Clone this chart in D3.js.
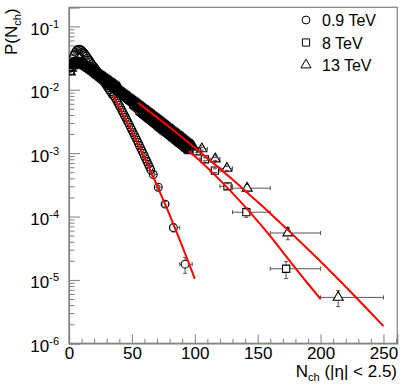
<!DOCTYPE html>
<html>
<head>
<meta charset="utf-8">
<title>P(Nch)</title>
<script src="https://d3js.org/d3.v7.min.js"></script>
<style>
  body { margin: 0; background: #fff; }
  text { font-family: "Liberation Sans", Arial, Helvetica, sans-serif; }
</style>
</head>
<body>
<script>
// dense part of the spectra, one value per N_ch = 1, 2, 3, ...
var p09 = [2.19e-2, 2.63e-2, 3.09e-2, 3.55e-2, 3.89e-2, 4.17e-2, 4.32e-2, 4.37e-2, 4.32e-2, 4.17e-2,
           3.98e-2, 3.80e-2, 3.59e-2, 3.39e-2, 3.16e-2, 2.95e-2, 2.75e-2, 2.57e-2, 2.40e-2, 2.29e-2,
           2.14e-2, 2.00e-2, 1.86e-2, 1.74e-2, 1.62e-2, 1.51e-2, 1.41e-2, 1.32e-2, 1.23e-2, 1.15e-2,
           1.07e-2, 1.00e-2, 9.33e-3, 8.71e-3, 8.13e-3, 7.93e-3, 7.29e-3, 6.70e-3, 6.15e-3, 5.65e-3,
           5.18e-3, 4.75e-3, 4.35e-3, 3.98e-3, 3.65e-3, 3.33e-3, 3.05e-3, 2.79e-3, 2.54e-3, 2.32e-3,
           2.11e-3, 1.93e-3, 1.76e-3, 1.60e-3, 1.46e-3, 1.32e-3, 1.20e-3, 1.09e-3, 9.91e-4, 8.97e-4,
           8.13e-4, 7.38e-4, 6.67e-4, 6.04e-4, 5.46e-4];
var p8 = [2.00e-2, 2.29e-2, 2.51e-2, 2.69e-2, 2.79e-2, 2.82e-2, 2.82e-2, 2.79e-2, 2.72e-2, 2.63e-2,
          2.54e-2, 2.45e-2, 2.37e-2, 2.29e-2, 2.21e-2, 2.14e-2, 2.07e-2, 2.00e-2, 1.93e-2, 1.86e-2,
          1.79e-2, 1.73e-2, 1.67e-2, 1.61e-2, 1.55e-2, 1.50e-2, 1.45e-2, 1.40e-2, 1.35e-2, 1.30e-2,
          1.26e-2, 1.22e-2, 1.17e-2, 1.14e-2, 1.10e-2, 1.06e-2, 1.02e-2, 9.89e-3, 9.55e-3, 9.23e-3,
          8.91e-3, 8.61e-3, 8.32e-3, 8.04e-3, 7.76e-3, 7.48e-3, 7.21e-3, 6.95e-3, 6.70e-3, 6.46e-3,
          5.91e-3, 5.70e-3, 5.49e-3, 5.29e-3, 5.10e-3, 4.66e-3, 4.49e-3, 4.33e-3, 4.17e-3, 4.02e-3,
          3.88e-3, 3.74e-3, 3.60e-3, 3.47e-3, 3.35e-3, 3.22e-3, 3.11e-3, 3.00e-3, 2.89e-3, 2.78e-3,
          2.68e-3, 2.58e-3, 2.49e-3, 2.40e-3, 2.31e-3, 2.23e-3, 2.16e-3, 2.09e-3, 2.02e-3, 1.94e-3,
          1.87e-3, 1.81e-3, 1.75e-3, 1.68e-3, 1.62e-3, 1.56e-3, 1.50e-3, 1.45e-3, 1.40e-3, 1.35e-3,
          1.30e-3, 1.25e-3, 1.21e-3, 1.16e-3, 1.12e-3];
var p13 = [1.91e-2, 2.19e-2, 2.40e-2, 2.54e-2, 2.63e-2, 2.66e-2, 2.66e-2, 2.63e-2, 2.60e-2, 2.54e-2,
           2.48e-2, 2.43e-2, 2.37e-2, 2.32e-2, 2.26e-2, 2.19e-2, 2.14e-2, 2.09e-2, 2.04e-2, 2.00e-2,
           1.94e-2, 1.88e-2, 1.82e-2, 1.77e-2, 1.72e-2, 1.66e-2, 1.61e-2, 1.56e-2, 1.51e-2, 1.46e-2,
           1.42e-2, 1.37e-2, 1.33e-2, 1.29e-2, 1.24e-2, 1.21e-2, 1.17e-2, 1.13e-2, 1.09e-2, 1.06e-2,
           9.50e-3, 9.14e-3, 8.85e-3, 8.57e-3, 8.30e-3, 8.01e-3, 7.74e-3, 7.48e-3, 7.22e-3, 6.98e-3,
           6.76e-3, 6.54e-3, 6.34e-3, 6.14e-3, 5.94e-3, 5.74e-3, 5.55e-3, 5.35e-3, 5.17e-3, 5.00e-3,
           4.83e-3, 4.66e-3, 4.51e-3, 4.35e-3, 4.20e-3, 4.07e-3, 3.93e-3, 3.79e-3, 3.66e-3, 3.54e-3,
           3.42e-3, 3.30e-3, 3.19e-3, 3.08e-3, 2.98e-3, 2.87e-3, 2.77e-3, 2.67e-3, 2.57e-3, 2.47e-3,
           2.39e-3, 2.31e-3, 2.24e-3, 2.15e-3, 2.08e-3, 2.01e-3, 1.94e-3, 1.88e-3, 1.81e-3, 1.76e-3,
           1.69e-3, 1.63e-3, 1.57e-3, 1.51e-3, 1.45e-3, 1.41e-3, 1.35e-3, 1.31e-3, 1.26e-3];

// wide bins in the tails: mean N_ch, bin edges, value, error
var b09N   = [67, 71, 76.4, 83, 92.3];
var b09Lo  = [66, 70, 74, 80, 88];
var b09Hi  = [68, 72, 79, 88, 98];
var b09P   = [4.6e-4, 2.9e-4, 1.57e-4, 6.7e-5, 1.77e-5];
var b09Err = [2.3e-5, 2.0e-5, 1.6e-5, 1.0e-5, 5.0e-6];

var b8N   = [101.6, 108, 116, 126, 141, 172.6];
var b8Lo  = [98, 104, 112, 120, 130, 160];
var b8Hi  = [104, 112, 120, 130, 160, 200];
var b8P   = [1.07e-3, 8.0e-4, 5.3e-4, 3.0e-4, 1.17e-4, 1.5e-5];
var b8Err = [4e-5, 4e-5, 3.5e-5, 3e-5, 2e-5, 4.5e-6];

var b13N   = [105.6, 116.2, 125.5, 141.6, 174, 214];
var b13Lo  = [100, 110, 120, 130, 160, 200];
var b13Hi  = [110, 120, 130, 160, 200, 250];
var b13P   = [1.17e-3, 8.1e-4, 5.75e-4, 2.8e-4, 5.5e-5, 5.3e-6];
var b13Err = [5e-5, 4e-5, 4e-5, 4e-5, 1.2e-5, 1.5e-6];

// fit curves (red)
var fit09N = [35, 40, 45, 50, 55, 60, 65, 70, 75, 80, 85, 90, 95, 100];
var fit09P = [8.13e-3, 5.33e-3, 3.44e-3, 2.19e-3, 1.37e-3, 8.47e-4, 5.15e-4, 3.09e-4, 1.82e-4,
              1.06e-4, 6.05e-5, 3.42e-5, 1.90e-5, 1.04e-5];
var fit8N = [95, 100, 115, 130, 145, 160, 175, 190, 200];
var fit8P = [1.07e-3, 8.91e-4, 4.71e-4, 2.34e-4, 1.10e-4, 4.90e-5, 2.05e-5, 8.7e-6, 5.0e-6];
var fit13N = [55, 70, 85, 100, 115, 130, 145, 160, 175, 190, 205, 220, 235, 250];
var fit13P = [6.21e-3, 3.67e-3, 2.14e-3, 1.22e-3, 6.90e-4, 3.83e-4, 2.08e-4, 1.12e-4, 5.89e-5,
              3.05e-5, 1.56e-5, 7.82e-6, 3.85e-6, 1.87e-6];

var xMajor = [0, 50, 100, 150, 200, 250];
var yMajor = [1e-6, 1e-5, 1e-4, 1e-3, 1e-2, 1e-1];
var yExp = ["-6", "-5", "-4", "-3", "-2", "-1"];
var legendLabels = ["0.9 TeV", "8 TeV", "13 TeV"];

(function(){
  var W = 407, H = 391;
  var padL = 69, padR = 397.3, padT = 7.3, padB = 343.3;
  var axisCol = "#808080";

  var x = d3.scaleLinear().domain([0, 261]).range([padL, padR]);
  var y = d3.scaleLog().domain([1e-6, 0.2]).range([padB, padT]);

  var svg = d3.select("body").append("svg")
      .attr("width", W)
      .attr("height", H);

  svg.append("defs").append("clipPath").attr("id", "plot")
    .append("rect")
      .attr("x", padL).attr("y", padT)
      .attr("width", padR - padL).attr("height", padB - padT);

  // frame
  svg.append("rect")
      .attr("x", padL).attr("y", padT)
      .attr("width", padR - padL).attr("height", padB - padT)
      .attr("fill", "none")
      .attr("stroke", axisCol)
      .attr("stroke-width", 1.2);

  // x axis: majors + minors pointing inward
  var xMinor = d3.range(0, 261, 10).filter(function(v){ return v % 50 !== 0; });
  svg.append("g")
      .attr("transform", "translate(0," + padB + ")")
      .call(d3.axisBottom(x).tickValues(xMinor).tickSize(-4.5).tickFormat(""))
      .call(function(g){ g.select(".domain").remove(); });
  var gx = svg.append("g")
      .attr("transform", "translate(0," + padB + ")")
      .call(d3.axisBottom(x).tickValues(xMajor).tickSize(-9).tickPadding(4).tickFormat(d3.format("d")));
  gx.select(".domain").attr("stroke", axisCol).attr("stroke-width", 1.2);
  svg.selectAll("g.tick line").attr("stroke", axisCol);
  gx.selectAll("text").attr("font-size", 17).attr("fill", "#000")
      .attr("font-family", "Liberation Sans, Arial, sans-serif");

  // y axis (log)
  var yMinor = [];
  yMajor.forEach(function(d){
    [2,3,4,5,6,7,8,9].forEach(function(m){ if (d * m <= 0.2) yMinor.push(d * m); });
  });
  svg.append("g")
      .attr("transform", "translate(" + padL + ",0)")
      .call(d3.axisLeft(y).tickValues(yMinor).tickSize(-5.5).tickFormat(""))
      .call(function(g){ g.select(".domain").remove(); g.selectAll("line").attr("stroke", axisCol); });
  var gy = svg.append("g")
      .attr("transform", "translate(" + padL + ",0)")
      .call(d3.axisLeft(y).tickValues(yMajor).tickSize(-11).tickFormat(""));
  gy.select(".domain").attr("stroke", axisCol).attr("stroke-width", 1.2);
  gy.selectAll("line").attr("stroke", axisCol);
  gy.selectAll("g.tick").each(function(d, i){
    var t = d3.select(this).append("text")
        .attr("fill", "#000")
        .attr("text-anchor", "end")
        .attr("x", -10).attr("y", 8)
        .attr("font-family", "Liberation Sans, Arial, sans-serif");
    t.append("tspan").attr("font-size", 17).text("10");
    t.append("tspan").attr("font-size", 11).attr("dy", -7).text(yExp[i]);
  });

  // axis titles
  var xt = svg.append("text")
      .attr("x", 397).attr("y", 377)
      .attr("text-anchor", "end")
      .attr("font-size", 17);
  xt.append("tspan").text("N");
  xt.append("tspan").attr("font-size", 11).attr("dy", 4).text("ch");
  xt.append("tspan").attr("dy", -4).text(" (|\u03b7| < 2.5)");

  var yt = svg.append("text")
      .attr("transform", "translate(17,55) rotate(-90)")
      .attr("text-anchor", "start")
      .attr("font-size", 17);
  yt.append("tspan").text("P(N");
  yt.append("tspan").attr("font-size", 11).attr("dy", 4).text("ch");
  yt.append("tspan").attr("dy", -4).text(")");

  // markers
  var shapes = [d3.symbolCircle, d3.symbolSquare, d3.symbolTriangle];
  var sizes = [48, 52, 44];
  var radius = [3.9, 3.6, 3.8];
  var markCol = "#000";

  function sym(k){ return d3.symbol().type(shapes[k]).size(sizes[k])(); }
  function dense(vals){
    return vals.map(function(v, i){ return { n: i + 1, p: v }; });
  }
  function binned(N, lo, hi, P, E){
    return N.map(function(n, i){ return { n: n, lo: lo[i], hi: hi[i], p: P[i], e: E[i] }; });
  }

  var plot = svg.append("g").attr("clip-path", "url(#plot)");

  var series = [
    { dense: dense(p09), bins: binned(b09N, b09Lo, b09Hi, b09P, b09Err) },
    { dense: dense(p8),  bins: binned(b8N, b8Lo, b8Hi, b8P, b8Err) },
    { dense: dense(p13), bins: binned(b13N, b13Lo, b13Hi, b13P, b13Err) }
  ];

  series.forEach(function(s, k){
    var g = plot.append("g");
    var r = radius[k];
    // error bars of the wide bins, with a gap where the marker sits
    s.bins.forEach(function(d){
      var cx = x(d.n), cy = y(d.p);
      var segs = [
        [x(d.lo), cy, cx - r, cy], [cx + r, cy, x(d.hi), cy],
        [cx, y(d.p + d.e), cx, cy - r], [cx, cy + r, cx, y(d.p - d.e)],
        [x(d.lo), cy - 2, x(d.lo), cy + 2], [x(d.hi), cy - 2, x(d.hi), cy + 2],
        [cx - 2, y(d.p + d.e), cx + 2, y(d.p + d.e)], [cx - 2, y(d.p - d.e), cx + 2, y(d.p - d.e)]
      ];
      segs.forEach(function(l){
        g.append("line")
            .attr("x1", l[0]).attr("y1", l[1]).attr("x2", l[2]).attr("y2", l[3])
            .attr("stroke", "#555").attr("stroke-width", 1);
      });
    });
    var pts = s.dense.concat(s.bins);
    g.selectAll("path.m").data(pts).enter().append("path")
        .attr("class", "m")
        .attr("d", sym(k))
        .attr("transform", function(d){ return "translate(" + x(d.n) + "," + y(d.p) + ")"; })
        .attr("fill", "none")
        .attr("stroke", markCol)
        .attr("stroke-width", 1.1);
  });

  // fits, drawn over the points
  var line = d3.line()
      .x(function(d){ return x(d[0]); })
      .y(function(d){ return y(d[1]); })
      .curve(d3.curveMonotoneX);
  [[fit09N, fit09P], [fit8N, fit8P], [fit13N, fit13P]].forEach(function(f){
    plot.append("path")
        .datum(f[0].map(function(n, i){ return [n, f[1][i]]; }))
        .attr("d", line)
        .attr("fill", "none")
        .attr("stroke", "#ff0000")
        .attr("stroke-width", 2);
  });

  // legend
  var legY = [20, 42.5, 65];
  legendLabels.forEach(function(lab, k){
    svg.append("path")
        .attr("d", sym(k))
        .attr("transform", "translate(306," + legY[k] + ")")
        .attr("fill", "none")
        .attr("stroke", markCol)
        .attr("stroke-width", 1);
    svg.append("text")
        .attr("x", 322).attr("y", legY[k] + 6)
        .attr("font-size", 16)
        .text(lab);
  });
})();
</script>
</body>
</html>
